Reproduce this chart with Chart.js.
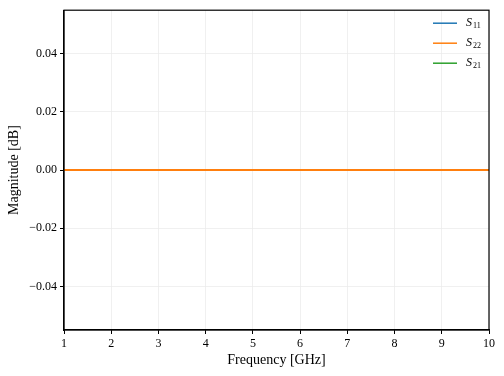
<!DOCTYPE html>
<html>
<head>
<meta charset="utf-8">
<script src="https://cdn.jsdelivr.net/npm/chart.js@4"></script>
<style>
  html, body { margin: 0; padding: 0; background: #fff; }
  #wrap { width: 504px; height: 376px; position: relative; }
</style>
</head>
<body>
<div id="wrap"><canvas id="chart"></canvas></div>
<script>
// data
const freqs = [1, 2, 3, 4, 5, 6, 7, 8, 9, 10];
const s11 = [0, 0, 0, 0, 0, 0, 0, 0, 0, 0];
const s22 = [0, 0, 0, 0, 0, 0, 0, 0, 0, 0];
const s21 = [0, 0, 0, 0, 0, 0, 0, 0, 0, 0];
const seriesNames = ['S11', 'S22', 'S21'];
const seriesSubs = ['11', '22', '21'];
const xTicks = [1, 2, 3, 4, 5, 6, 7, 8, 9, 10];
const yTicks = [-0.04, -0.02, 0, 0.02, 0.04];
const xTitle = 'Frequency [GHz]';
const yTitle = 'Magnitude [dB]';

const serif = "'Liberation Serif', 'DejaVu Serif', serif";

function pts(ys) {
    return freqs.map((f, i) => ({ x: f, y: ys[i] }));
}

// box around the plot, axis titles and the legend with subscripts
const framePlugin = {
    id: 'frame',
    afterDraw(chart) {
        const { ctx, chartArea: a } = chart;
        ctx.save();
        ctx.strokeStyle = '#000';
        ctx.lineWidth = 1.2;
        ctx.strokeRect(a.left, a.top, a.right - a.left, a.bottom - a.top);

        // axis titles
        ctx.fillStyle = '#000';
        ctx.font = '14px ' + serif;
        ctx.textAlign = 'center';
        ctx.textBaseline = 'middle';
        ctx.fillText(xTitle, (a.left + a.right) / 2, 360);
        ctx.save();
        ctx.translate(14, (a.top + a.bottom) / 2);
        ctx.rotate(-Math.PI / 2);
        ctx.fillText(yTitle, 0, 0);
        ctx.restore();

        // legend
        ctx.textAlign = 'left';
        let y = a.top + 13;
        chart.data.datasets.forEach((ds, i) => {
            ctx.strokeStyle = ds.borderColor;
            ctx.lineWidth = 1.5;
            ctx.beginPath();
            ctx.moveTo(433, y);
            ctx.lineTo(457, y);
            ctx.stroke();
            ctx.fillStyle = '#000';
            ctx.font = 'italic 12px ' + serif;
            ctx.fillText('S', 466, y);
            ctx.font = '8px ' + serif;
            ctx.fillText(seriesSubs[i], 473, y + 3);
            y += 20;
        });
        ctx.restore();
    }
};

const gridOpts = {
    color: '#ececec',
    lineWidth: 0.8,
    borderDash: [3, 2],
    tickColor: '#000',
    tickLength: 4,
    tickBorderDash: [],
    tickWidth: 1
};

const ctx = document.getElementById('chart').getContext('2d');
new Chart(ctx, {
    type: 'line',
    data: {
        datasets: [
            { label: seriesNames[0], data: pts(s11), borderColor: '#1f77b4', borderWidth: 1.5, order: 2 },
            { label: seriesNames[1], data: pts(s22), borderColor: '#ff7f0e', borderWidth: 2, order: 0 },
            { label: seriesNames[2], data: pts(s21), borderColor: '#2ca02c', borderWidth: 1.5, order: 1 }
        ]
    },
    options: {
        responsive: true,
        maintainAspectRatio: false,
        animation: false,
        layout: { padding: { top: 8, right: 15, left: 0, bottom: 0 } },
        elements: {
            point: { radius: 0 },
            line: { tension: 0 }
        },
        plugins: {
            legend: { display: false },
            tooltip: { enabled: false }
        },
        scales: {
            x: {
                type: 'linear',
                min: 1,
                max: 10,
                afterBuildTicks: s => { s.ticks = xTicks.map(v => ({ value: v })); },
                afterFit: s => { s.height = 46; },
                grid: gridOpts,
                border: { display: true, color: '#000', width: 1.2 },
                ticks: {
                    color: '#000',
                    padding: 3,
                    maxRotation: 0,
                    font: { family: serif, size: 12 }
                }
            },
            y: {
                min: -0.055,
                max: 0.055,
                afterBuildTicks: s => { s.ticks = yTicks.map(v => ({ value: v })); },
                afterFit: s => { s.width = 64; },
                grid: gridOpts,
                border: { display: true, color: '#000', width: 1.2 },
                ticks: {
                    color: '#000',
                    padding: 3,
                    font: { family: serif, size: 12 },
                    callback: v => v.toFixed(2).replace('-', '\u2212')
                }
            }
        }
    },
    plugins: [framePlugin]
});
</script>
</body>
</html>
